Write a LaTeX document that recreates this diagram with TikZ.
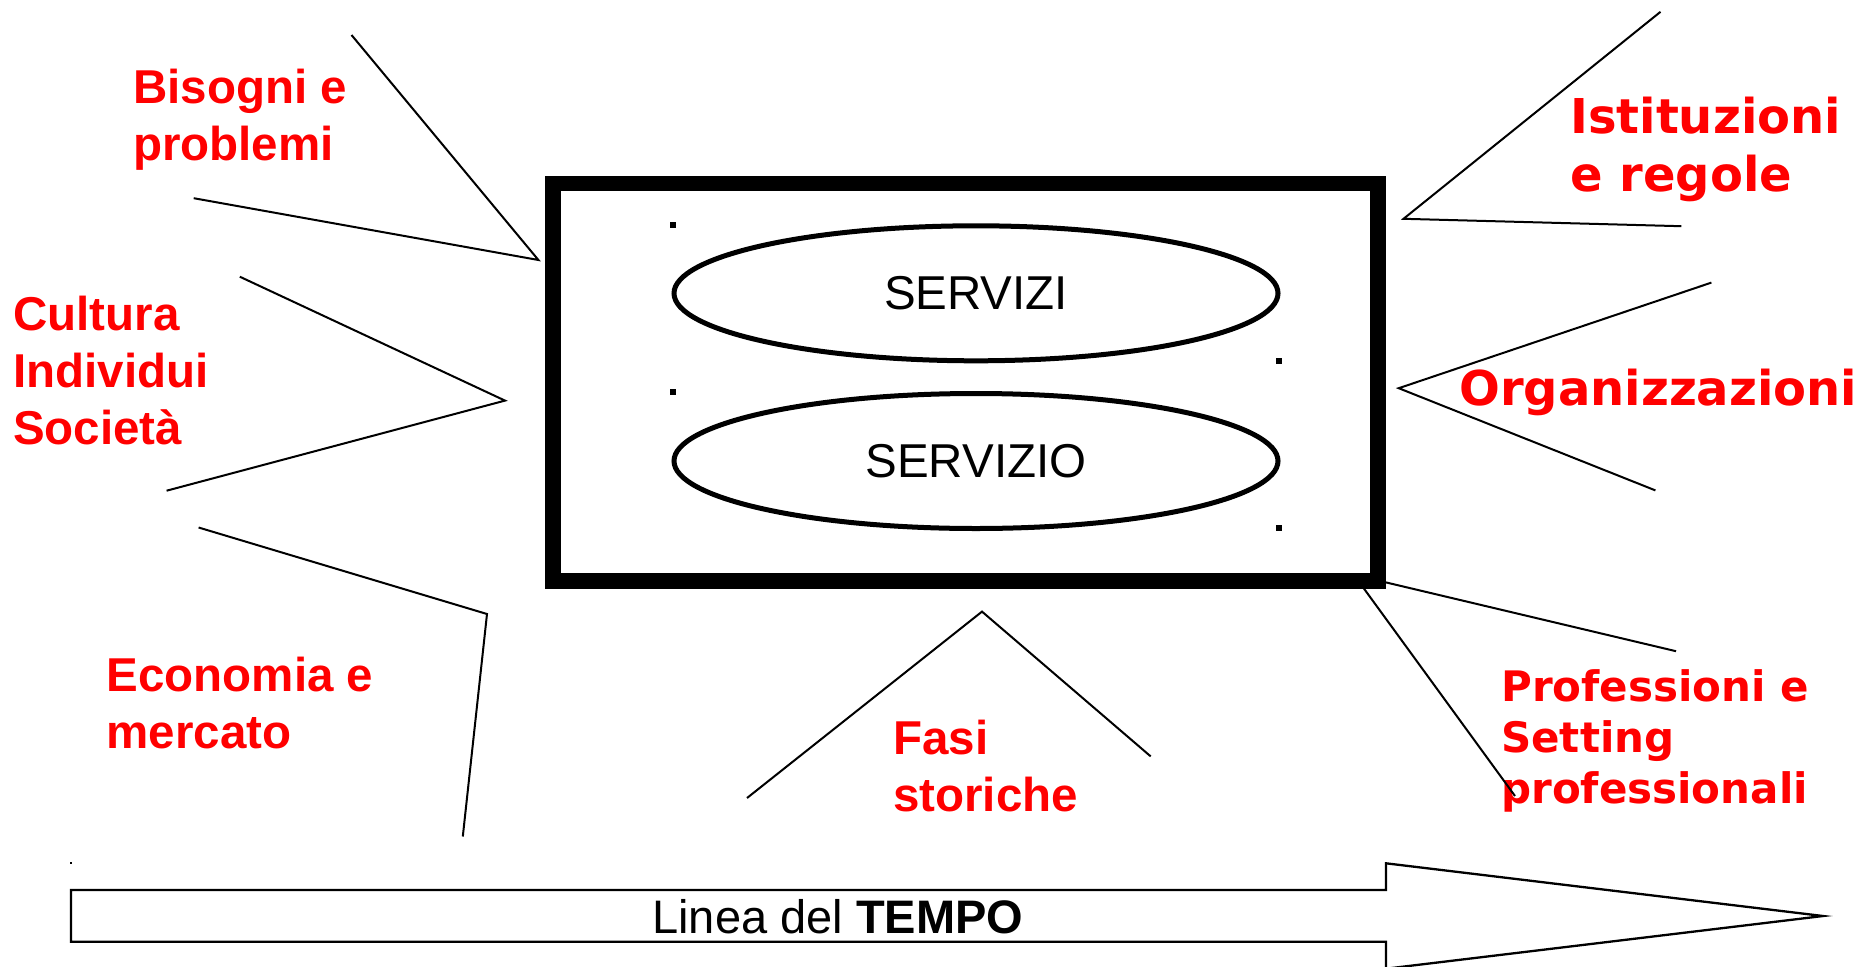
\documentclass[tikz,border=0pt]{standalone}
\usepackage{fontspec}
\usetikzlibrary{shapes.geometric}
\newfontfamily\lsans{Liberation Sans}
\newfontfamily\dvsans{DejaVu Sans}
\definecolor{lblred}{RGB}{255,0,0}
\begin{document}
\begin{tikzpicture}[x=1pt,y=-1pt,
  ray/.style={draw=black,line width=2pt},
  lblA/.style={text=lblred,font=\lsans\bfseries\fontsize{47.5}{57}\selectfont,align=left,inner sep=0pt,anchor=base west},
  lblB/.style={text=lblred,font=\dvsans\bfseries\fontsize{48}{58}\selectfont,align=left,inner sep=0pt,anchor=base west},
  lblC/.style={text=lblred,font=\dvsans\bfseries\fontsize{42}{51}\selectfont,align=left,inner sep=0pt,anchor=base west},
  frame/.style={draw=black,line width=15.5pt,inner sep=0pt,minimum width=825,minimum height=397.5},
  oval/.style={ellipse,draw=black,line width=5pt,inner sep=0pt,minimum width=604,minimum height=135,font=\lsans\fontsize{47.5}{57}\selectfont},
  dotsq/.style={fill=black,inner sep=0pt,minimum size=6},
  timearrow/.style={draw=black,line width=2.3pt,fill=white,line join=miter}]
\useasboundingbox (0,0) rectangle (1862,966);

% central frame and ellipses
\node[frame] (box) at (965.3,382.45) {};
\node[oval] (e1) at (976,293.3) {SERVIZI};
\node[oval] (e2) at (976,461) {SERVIZIO};
\node[dotsq] (d1) at (673.3,225) {};
\node[dotsq] (d2) at (1279,361) {};
\node[dotsq] (d3) at (673.3,392.3) {};
\node[dotsq] (d4) at (1279,528.3) {};
\node[fill=black,inner sep=0pt,minimum size=1.5] (d5) at (71,863) {};

% time arrow
\draw[timearrow] (71,890) -- (1386,890) -- (1386,863.3) -- (1823,916)
  -- (1386,968.7) -- (1386,941.7) -- (71,941.7) -- cycle;
\node[font=\lsans\fontsize{47}{56}\selectfont,inner sep=0pt,anchor=base] (tempo) at (837.8,933.3) {Linea del \textbf{TEMPO}};

% labels (anchored at the baseline of their last line)
\node[lblA] (bis) at (133,160.2) {Bisogni e\\problemi};
\node[lblA] (cul) at (13,444.3) {Cultura\\Individui\\Società};
\node[lblA] (eco) at (106.5,748.5) {Economia e\\mercato};
\node[lblA] (fasi) at (893,811) {Fasi\\storiche};
\node[lblB] (ist) at (1570,191.5) {Istituzioni\\e regole};
\node[lblB] (org) at (1459,405) {Organizzazioni};
\node[lblC] (pro) at (1501,803) {Professioni e\\Setting\\professionali};

% ray coordinates
\coordinate (b1) at (351.5,35);
\coordinate (bv) at (538.4,260);
\coordinate (b2) at (193.7,198.2);
\coordinate (c1) at (239.8,276.7);
\coordinate (cv) at (505,400.6);
\coordinate (c2) at (166.6,490.7);
\coordinate (ec1) at (198.6,527.5);
\coordinate (ecv) at (487,614);
\coordinate (ec2) at (462.8,836.5);
\coordinate (f1) at (747,798);
\coordinate (fv) at (982,611.6);
\coordinate (f2) at (1150.7,756.4);
\coordinate (p1s) at (1385.5,582.3);
\coordinate (p1) at (1676,651.2);
\coordinate (p2s) at (1363.5,588);
\coordinate (p2) at (1515,796);
\coordinate (o1) at (1711.4,282.6);
\coordinate (ov) at (1398.7,388.2);
\coordinate (o2) at (1655.4,490.4);
\coordinate (i1) at (1660.5,11.8);
\coordinate (iv) at (1403.5,218.8);
\coordinate (i2) at (1681.3,226.2);

% rays
\draw[ray] (b1) -- (bv) -- (b2);
\draw[ray] (c1) -- (cv) -- (c2);
\draw[ray] (ec1) -- (ecv) -- (ec2);
\draw[ray] (f1) -- (fv) -- (f2);
\draw[ray] (p1s) -- (p1);
\draw[ray] (p2s) -- (p2);
\draw[ray] (o1) -- (ov) -- (o2);
\draw[ray] (i1) -- (iv) -- (i2);
\end{tikzpicture}
\end{document}
